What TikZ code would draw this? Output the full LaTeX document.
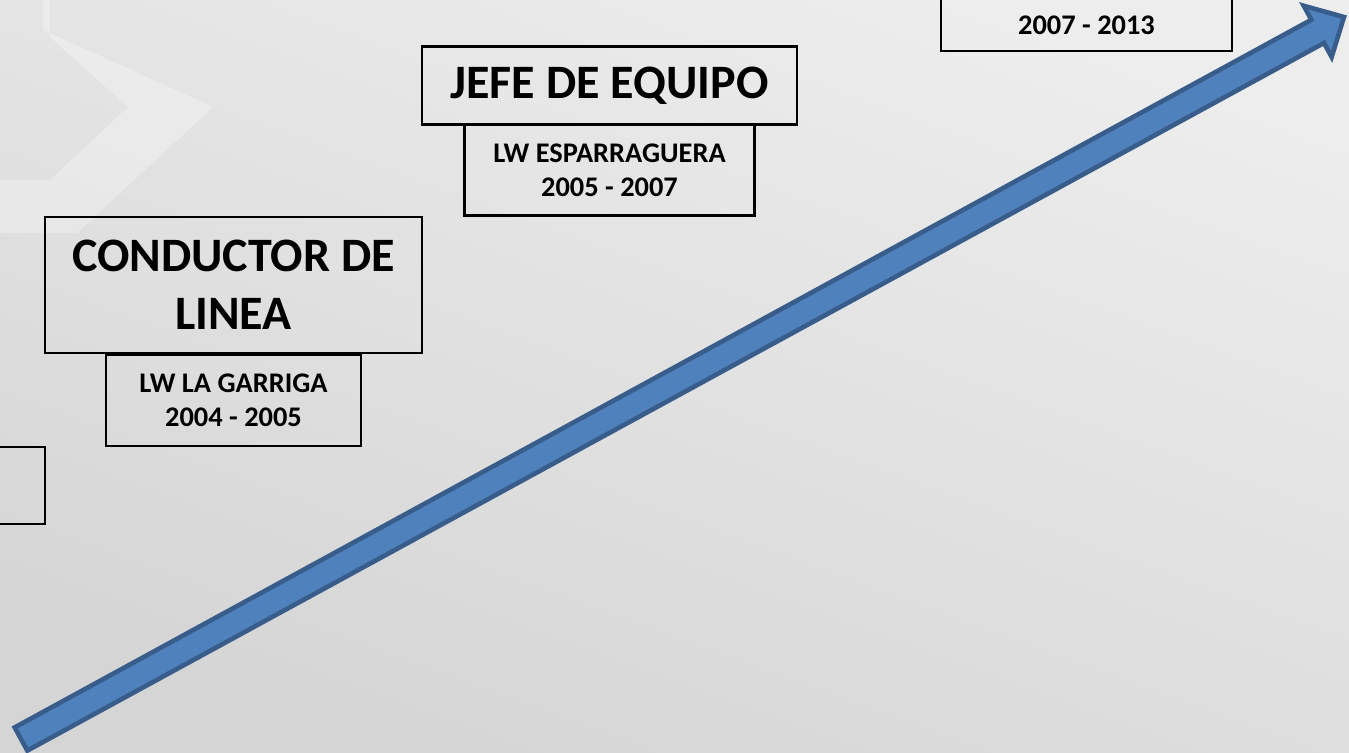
\documentclass[tikz,border=0pt]{standalone}
\usepackage{fontspec}
\setmainfont{Carlito}
\usetikzlibrary{positioning,calc}

\definecolor{arrowfill}{HTML}{4F81BD}
\definecolor{arrowline}{HTML}{385D8A}
\definecolor{bgtop}{HTML}{EDEDED}
\definecolor{bgbottom}{HTML}{D5D5D5}

\tikzset{
	jobbox/.style={draw, line width=1.1pt, inner sep=0pt, outer sep=0pt, align=center,
		font=\fontsize{24}{29}\selectfont\bfseries},
	placebox/.style={jobbox, minimum height=45.5pt, font=\fontsize{14.2}{17}\selectfont\bfseries},
	growth/.style={fill=arrowfill, draw=arrowline, line width=2.3pt, line join=miter}
}

\begin{document}
\begin{tikzpicture}[x=0.5pt,y=-0.5pt]
		\useasboundingbox (0,0) rectangle (1349,752);
		\clip (0,0) rectangle (1349,752);
		
		% background
		\shade[top color=bgtop, bottom color=bgbottom, shading angle=-20] (0,0) rectangle (1349,752);
		\fill[white, opacity=0.28] (43,0) -- (43,30) -- (213,107) -- (77,233) -- (0,233) -- (0,180) -- (50,180) -- (128,107) -- (50,37) -- (50,0) -- cycle;
		
		% jobs
		\node[jobbox, minimum width=188.5pt, minimum height=68pt] (conductor) at (233.5,285) {CONDUCTOR DE\\LINEA};
		\node[placebox, minimum width=127.5pt, below=1pt of conductor] (garriga) {LW LA GARRIGA\\2004 - 2005};
		\node[jobbox, minimum width=187.5pt, minimum height=39pt] (jefe) at (609.5,85.5) {JEFE DE EQUIPO};
		\node[placebox, minimum width=145pt, below=0pt of jefe] (esparraguera) {LW ESPARRAGUERA\\2005 - 2007};
		\node[placebox, minimum width=145.5pt, anchor=south west] (next) at (941,51) {\mbox{}\\[12pt]2007 - 2013};
		\node[placebox, minimum width=145pt, minimum height=38.5pt, anchor=north east] (previous) at (45,447) {};
		
		% arrow
		\coordinate (tail) at (21,739);
		\coordinate (tip) at (1344,17);
		\coordinate (headbase) at ($(tip)!15pt!(tail)$);
		\filldraw[growth] ($(tail)!6.6pt!90:(tip)$) -- ($(headbase)!6.6pt!90:(tip)$) -- ($(headbase)!14.6pt!90:(tip)$) -- (tip)
			-- ($(headbase)!14.6pt!-90:(tip)$) -- ($(headbase)!6.6pt!-90:(tip)$) -- ($(tail)!6.6pt!-90:(tip)$) -- cycle;
	\end{tikzpicture}
\end{document}
